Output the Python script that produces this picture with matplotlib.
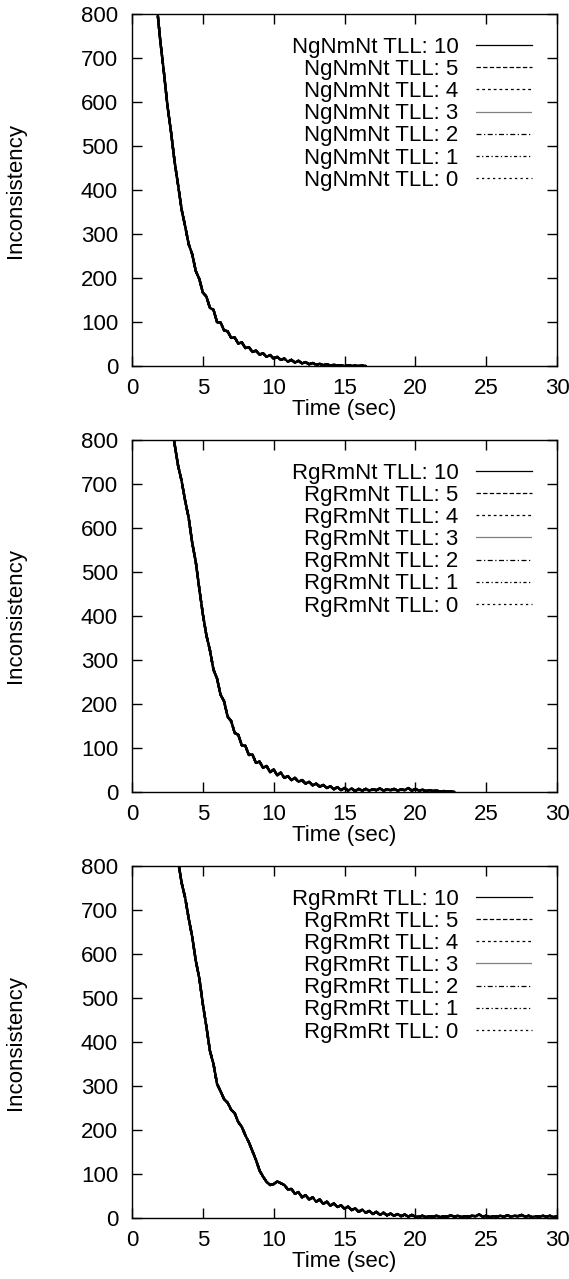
import numpy as np
import matplotlib
matplotlib.use('Agg')
import matplotlib.pyplot as plt

plt.rcParams['font.family'] = ['Liberation Sans', 'DejaVu Sans']
plt.rcParams['font.size'] = 16

step = 0.25

ngnmnt_start = 1.75
ngnmnt = [820, 738, 668, 592, 533, 466, 412, 356, 318, 277,
          254, 216, 198, 167, 158, 132, 128, 100, 99, 81,
          79, 64, 65, 51, 54, 41, 43, 32, 35, 26,
          29, 21, 25, 17, 21, 14, 17, 10, 14, 8,
          12, 6, 9, 4, 7, 3, 5, 2, 4, 1,
          3, 1, 2, 0, 2, 0, 1, 0, 1, 0]

rgrmnt_start = 2.75
rgrmnt = [840, 792, 742, 707, 662, 623, 566, 523, 462, 404,
          356, 322, 278, 258, 221, 206, 171, 161, 134, 130,
          106, 105, 84, 85, 66, 69, 55, 59, 45, 51,
          38, 44, 32, 36, 27, 32, 23, 27, 19, 23,
          15, 19, 12, 16, 9, 13, 6, 11, 4, 9,
          3, 8, 2, 7, 3, 7, 3, 6, 4, 8,
          3, 6, 4, 7, 3, 6, 4, 9, 3, 7,
          3, 5, 2, 4, 2, 3, 1, 2, 1, 1, 0]

rgrmrt_start = 3.0
rgrmrt = [860, 812, 762, 728, 681, 639, 585, 545, 486, 435,
          380, 350, 305, 288, 270, 262, 246, 238, 218, 207,
          188, 172, 152, 132, 108, 94, 82, 75, 77, 83,
          79, 75, 65, 66, 55, 59, 47, 52, 42, 47,
          37, 42, 32, 37, 28, 33, 25, 29, 21, 26,
          18, 22, 14, 19, 12, 16, 9, 14, 7, 12,
          6, 10, 5, 9, 4, 8, 3, 7, 3,
          3, 5, 2, 4, 3, 5, 2, 4, 3, 6,
          3, 5, 2, 4, 3, 5, 4, 8, 3, 5,
          2, 4, 3, 5, 3, 6, 3, 5, 4, 7,
          3, 5, 2, 4, 3, 5, 3, 5, 2, 4]

tll_levels = [10, 5, 4, 3, 2, 1, 0]
tll_styles = {10: '-', 5: (0, (3.5, 1.8)), 4: (0, (2.2, 2.4)), 3: (0, (0.8, 0.8)),
              2: (0, (4, 2, 1, 2)), 1: (0, (2.5, 2, 1, 2)), 0: (0, (1.8, 2.6))}

panels = [('NgNmNt', ngnmnt_start, ngnmnt),
          ('RgRmNt', rgrmnt_start, rgrmnt),
          ('RgRmRt', rgrmrt_start, rgrmrt)]

fig = plt.figure(figsize=(5.69, 12.79), dpi=100)
bottoms = [0.7138, 0.3808, 0.0477]

for (name, t0, vals), b in zip(panels, bottoms):
    ax = fig.add_axes([0.232, b, 0.747, 0.2752])
    t = t0 + step * np.arange(len(vals))
    lines = []
    for lvl in tll_levels[::-1]:
        ln, = ax.plot(t, vals, color='black', lw=1.7,
                      linestyle=tll_styles[lvl], label='%s TLL: %d' % (name, lvl))
        lines.append(ln)
    lines = lines[::-1]
    ax.set_xlim(0, 30)
    ax.set_ylim(0, 800)
    ax.set_xticks(range(0, 31, 5))
    ax.set_yticks(range(0, 801, 100))
    ax.tick_params(direction='in', length=7, width=1, top=True, right=True)
    ax.tick_params(axis='x', pad=8.5)
    ax.tick_params(axis='y', pad=10)
    for sp in ax.spines.values():
        sp.set_linewidth(1.0)
    ax.set_xlabel('Time (sec)')
    ax.xaxis.set_label_coords(0.5, -0.094)
    ax.set_ylabel('Inconsistency')
    ax.yaxis.set_label_coords(-0.249, 0.5)
    leg = ax.legend(handles=lines, loc='upper right', bbox_to_anchor=(0.941, 0.935),
                    frameon=False, markerfirst=False, borderpad=0, borderaxespad=0,
                    handlelength=2.5, handletextpad=0.8, labelspacing=0.05)
    for hl in leg.get_lines():
        hl.set_linewidth(0.9)

fig.savefig('out.png', dpi=100)
